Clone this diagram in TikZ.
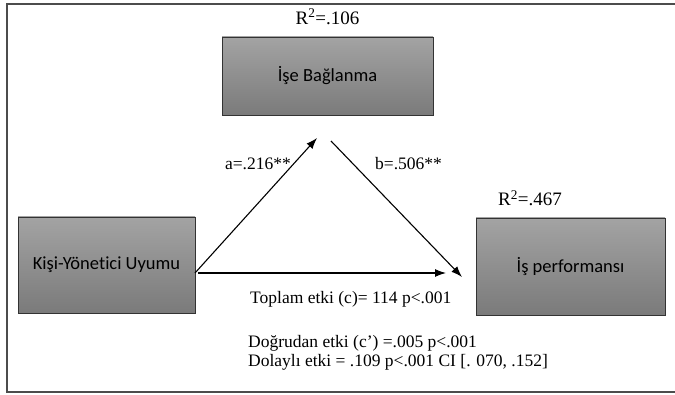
\documentclass[tikz,border=0pt]{standalone}
\usepackage{fontspec}
\setmainfont{Liberation Serif}
\newfontfamily\boxfont[Ligatures=NoCommon]{Carlito}
\usetikzlibrary{
    arrows.meta,
    positioning
}

\tikzset{
    varbox/.style={draw=black!80, line width=0.9pt, top color=black!36, bottom color=black!52,
        minimum width=211pt, minimum height=78pt, font=\boxfont\fontsize{18.5}{22}\selectfont},
    effect/.style={-{Latex[length=11pt,width=8pt]}, line width=1.1pt},
    stat/.style={font=\fontsize{17.5}{21}\selectfont, inner sep=0pt}
}

\begin{document}
\begin{tikzpicture}[x=1pt,y=-1pt]

\useasboundingbox (0,0) rectangle (675,395);

% Frame
\draw[black!70, line width=1.4pt] (675,4) -- (7,4) -- (7,392) -- (675,392);

% Variables
\node[varbox] (med) at (327.5,76) {İşe Bağlanma};
\node[varbox, minimum width=177pt, minimum height=96pt] (pred) at (106.5,265) {Kişi-Yönetici Uyumu};
\node[varbox, minimum width=189pt, minimum height=97pt] (out) at (570.5,266.5) {İş performansı};

% R squared
\node[stat, font=\fontsize{19}{22}\selectfont, above=12pt of med] (rmed) {R\textsuperscript{2}=.106};
\node[stat, font=\fontsize{19}{22}\selectfont] (rout) at (530,198) {R\textsuperscript{2}=.467};

% Arrow ends
\coordinate (aStart) at (195,273);
\coordinate (aTip) at (317,138);
\coordinate (bStart) at (331,141);
\coordinate (bTip) at (462,277);
\coordinate (cStart) at (198,273);
\coordinate (cTip) at (446,273);

% Paths
\draw[effect] (aStart) -- (aTip);
\draw[effect] (bStart) -- (bTip);
\draw[effect] (cStart) -- (cTip);

% Path labels
\node[stat, anchor=east] (alab) at (291,164) {a=.216**};
\node[stat, anchor=west] (blab) at (375,164) {b=.506**};

% Effects
\node[stat, anchor=west] (total) at (250,299) {Toplam etki (c)= 114 p<.001};
\node[stat, anchor=west] (direct) at (248,343) {Doğrudan etki (c’) =.005 p<.001};
\node[stat, anchor=west] (indirect) at (248,362) {Dolaylı etki = .109 p<.001 CI [. 070, .152]};

\end{tikzpicture}
\end{document}
